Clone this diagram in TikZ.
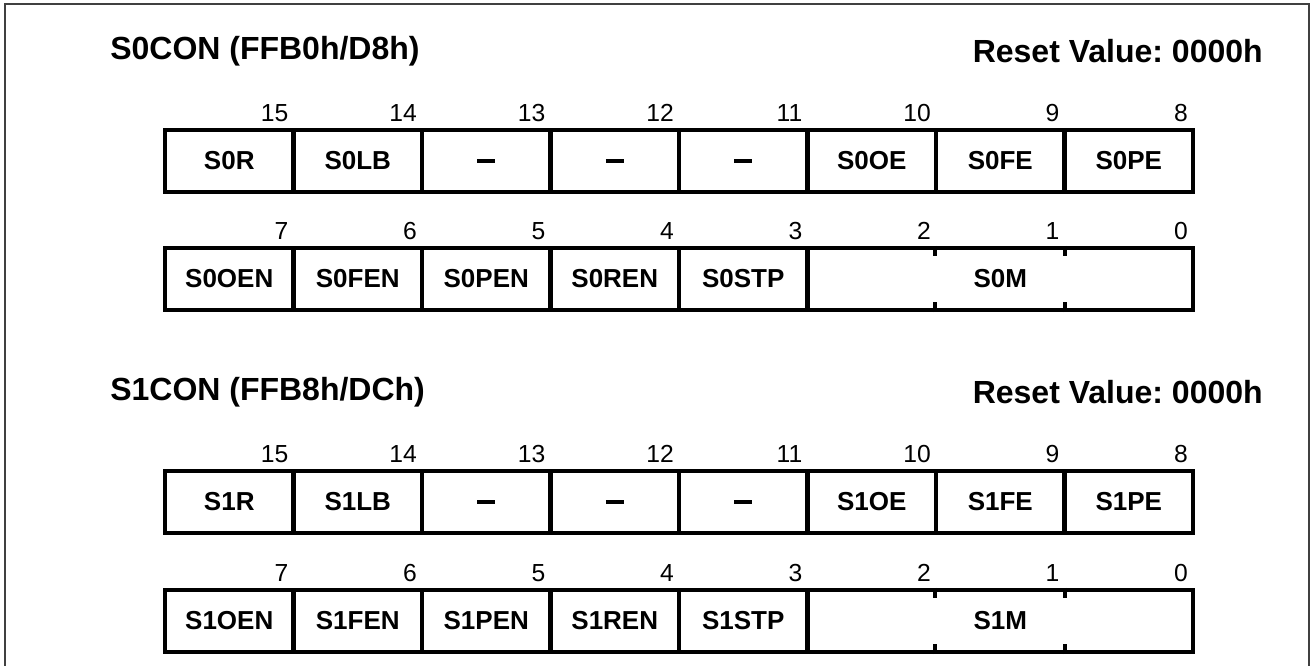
\documentclass[tikz,border=0pt]{standalone}
\usepackage{fontspec}
\setmainfont{Liberation Sans}
\usetikzlibrary{calc}
\frenchspacing
\newcommand{\resdash}{\rule{13.5pt}{3pt}}
\begin{document}
\begin{tikzpicture}[x=0.75pt,y=-0.75pt]
\useasboundingbox (0,0) rectangle (1313,666);
\tikzset{
  frame/.style={line width=1.5pt, draw=black!75},
  cell/.style={draw, line width=3.3pt, minimum width=96.375pt, minimum height=46.5pt,
    inner sep=0pt, font=\fontsize{19.5}{22}\selectfont\bfseries},
  field/.style={cell, minimum width=289.125pt},
  bitnum/.style={anchor=east, inner sep=0pt, font=\fontsize{18.5}{22}\selectfont},
  regtitle/.style={inner sep=0pt, font=\fontsize{24}{28}\selectfont\bfseries},
  tickmark/.style={line width=3.3pt},
}
% outer frame
\draw[frame] (5,680) -- (5,4) -- (1309,4) -- (1309,680);

% ---------- S0CON ----------
\node[regtitle, anchor=west] (t0) at (110,51) {S0CON (FFB0h/D8h)};
\node[regtitle, anchor=east] (r0) at (1263,51) {Reset Value: 0000h};
\foreach \lab [count=\i from 0] in {S0R,S0LB,\resdash,\resdash,\resdash,S0OE,S0FE,S0PE}{
  \pgfmathtruncatemacro\b{15-\i}
  \node[cell] (a\i) at ({165+128.5*(\i+0.5)},161) {\lab};
  \node[bitnum] (na\i) at ({165+128.5*(\i+1)-5},113) {\b};
}
\foreach \lab [count=\i from 0] in {S0OEN,S0FEN,S0PEN,S0REN,S0STP}{
  \node[cell] (b\i) at ({165+128.5*(\i+0.5)},279) {\lab};
}
\node[field] (bf) at ({165+128.5*6.5},279) {S0M};
\foreach \i in {0,...,7}{
  \pgfmathtruncatemacro\b{7-\i}
  \node[bitnum] (nb\i) at ({165+128.5*(\i+1)-5},231) {\b};
}
\foreach \f in {1,2}{
  \draw[tickmark] ($(bf.north west)!\f/3!(bf.north east)$) -- ++(0,10);
  \draw[tickmark] ($(bf.south west)!\f/3!(bf.south east)$) -- ++(0,-10);
}

% ---------- S1CON ----------
\node[regtitle, anchor=west] (t1) at (110,392) {S1CON (FFB8h/DCh)};
\node[regtitle, anchor=east] (r1) at (1263,392) {Reset Value: 0000h};
\foreach \lab [count=\i from 0] in {S1R,S1LB,\resdash,\resdash,\resdash,S1OE,S1FE,S1PE}{
  \pgfmathtruncatemacro\b{15-\i}
  \node[cell] (c\i) at ({165+128.5*(\i+0.5)},502) {\lab};
  \node[bitnum] (nc\i) at ({165+128.5*(\i+1)-5},454) {\b};
}
\foreach \lab [count=\i from 0] in {S1OEN,S1FEN,S1PEN,S1REN,S1STP}{
  \node[cell] (d\i) at ({165+128.5*(\i+0.5)},621) {\lab};
}
\node[field] (df) at ({165+128.5*6.5},621) {S1M};
\foreach \i in {0,...,7}{
  \pgfmathtruncatemacro\b{7-\i}
  \node[bitnum] (nd\i) at ({165+128.5*(\i+1)-5},573) {\b};
}
\foreach \f in {1,2}{
  \draw[tickmark] ($(df.north west)!\f/3!(df.north east)$) -- ++(0,10);
  \draw[tickmark] ($(df.south west)!\f/3!(df.south east)$) -- ++(0,-10);
}
\end{tikzpicture}
\end{document}
